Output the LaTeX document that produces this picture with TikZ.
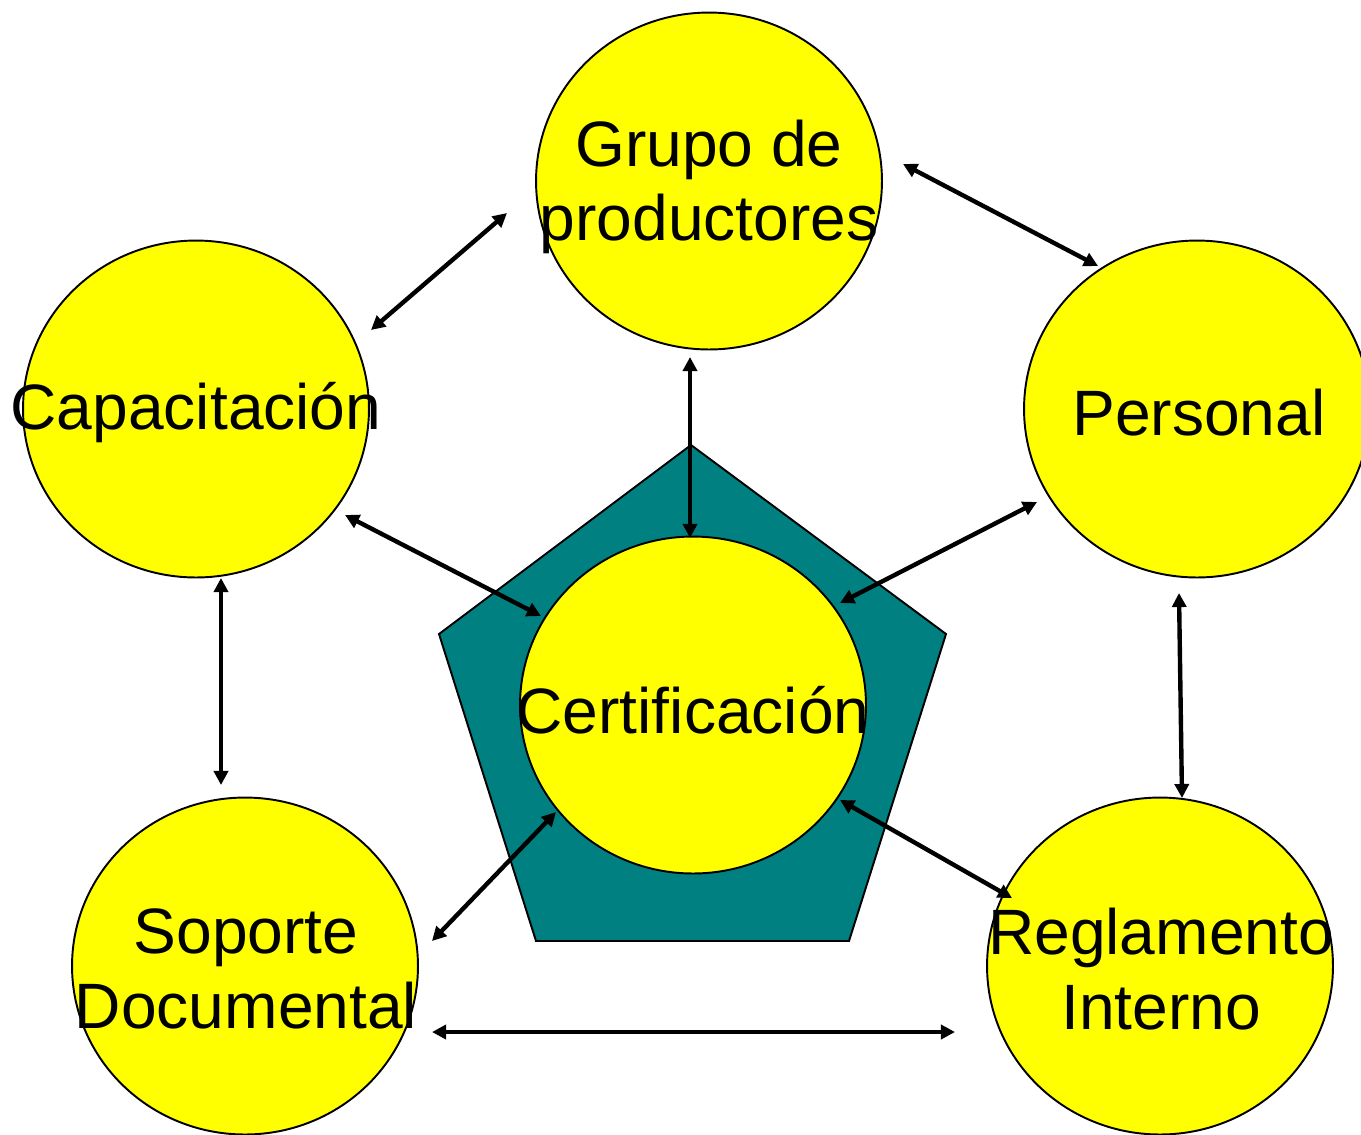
\documentclass[tikz,border=0pt]{standalone}
\usepackage{fontspec}
\setmainfont{Liberation Sans}
\usetikzlibrary{arrows.meta,shapes.geometric}
\definecolor{bub}{HTML}{FFFF00}
\definecolor{teal2}{HTML}{008080}
\tikzset{
  bubble/.style={ellipse, draw=black, line width=1.1pt, fill=bub, minimum width=6.92cm, minimum height=6.74cm, inner sep=0pt},
  lbl/.style={font=\fontsize{36.5}{42.5}\selectfont, align=center, inner sep=0pt, text=black},
  link/.style={line width=2.5pt, {Triangle[length=8pt,width=8pt]}-{Triangle[length=8pt,width=8pt]}},
}
\begin{document}
\begin{tikzpicture}[x=0.02cm,y=-0.02cm]
\useasboundingbox (0,0) rectangle (1361,1134);
\clip (0,0) rectangle (1361,1134);
% pentagon
\draw[fill=teal2, line width=1.1pt] (691,445) -- (946,634) -- (849,941) -- (536,941) -- (439,634) -- cycle;
% bubbles
\node[bubble] (gp) at (709,181) {};
\node[bubble] (cap) at (196,409) {};
\node[bubble] (per) at (1197,409) {};
\node[bubble] (cer) at (693,705) {};
\node[bubble] (sop) at (245,966) {};
\node[bubble] (reg) at (1160,966) {};
% labels
\node[lbl] (tgp) at (709,187) {Grupo de\\productores};
\node[lbl] (tcap) at (196,413) {Capacitación};
\node[lbl] (tper) at (1199,413) {Personal};
\node[lbl] (tcer) at (693,710) {Certificación};
\node[lbl] (tsop) at (246,969) {Soporte\\Documental};
\node[lbl] (treg) at (1161,969) {Reglamento\\Interno};
% arrow end points
\coordinate (a1) at (371,330); \coordinate (b1) at (507,213);
\coordinate (a2) at (903,164); \coordinate (b2) at (1098,266);
\coordinate (a3) at (690,357); \coordinate (b3) at (690,538);
\coordinate (a4) at (345,515); \coordinate (b4) at (541,616);
\coordinate (a5) at (1037,502); \coordinate (b5) at (840,603);
\coordinate (a6) at (221,578); \coordinate (b6) at (221,785);
\coordinate (a7) at (1179,593); \coordinate (b7) at (1182,798);
\coordinate (a8) at (432,941); \coordinate (b8) at (556,812);
\coordinate (a9) at (840,800); \coordinate (b9) at (1012,898);
\coordinate (a10) at (432,1032); \coordinate (b10) at (955,1032);
\foreach \i in {1,...,10} { \draw[link] (a\i) -- (b\i); }
\end{tikzpicture}
\end{document}
